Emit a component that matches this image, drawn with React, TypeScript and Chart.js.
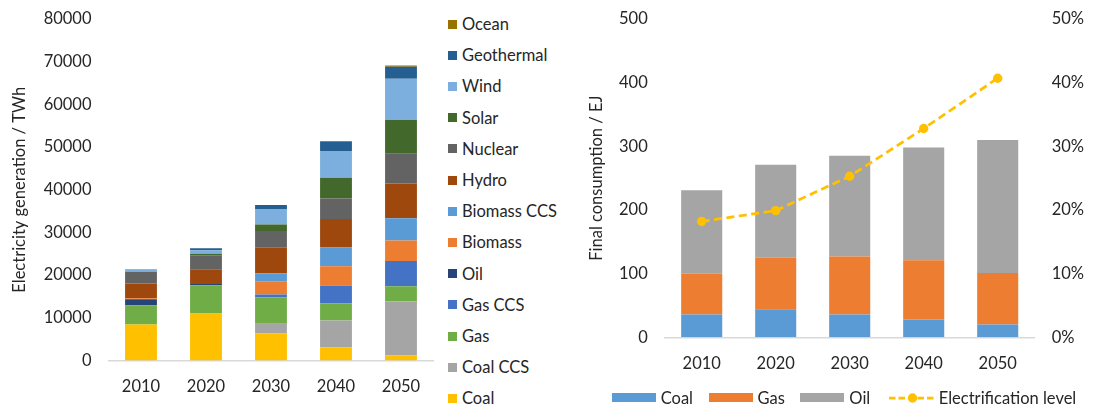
import React, { useEffect, useRef } from "react";
import { Chart, registerables } from "chart.js";

Chart.register(...registerables);

const FONT = "Lato, 'Open Sans', sans-serif";
const FONT_SIZE = 16.5;
const TITLE_SIZE = 16.5;
const TEXT = "#262626";
const AXIS_LINE = "#D9D9D9";

const YEARS = ["2010", "2020", "2030", "2040", "2050"];

// Electricity generation by source, TWh (listed bottom of the stack first)
const GEN_SOURCES = [
  "Coal", "Coal CCS", "Gas", "Gas CCS", "Oil", "Biomass", "Biomass CCS",
  "Hydro", "Nuclear", "Solar", "Wind", "Geothermal", "Ocean",
];
const GEN_COLORS = [
  "#FFC000", "#A5A5A5", "#70AD47", "#4472C4", "#264478", "#ED7D31", "#5B9BD5",
  "#9E480E", "#636363", "#43682B", "#7CAFDD", "#255E91", "#997300",
];
const GEN_COAL = [8450, 11020, 6330, 3120, 1240];
const GEN_COAL_CCS = [0, 0, 2250, 6260, 12590];
const GEN_GAS = [4500, 6630, 6190, 4050, 3590];
const GEN_GAS_CCS = [0, 0, 700, 4060, 5860];
const GEN_OIL = [1400, 300, 0, 0, 0];
const GEN_BIOMASS = [250, 0, 3120, 4610, 4850];
const GEN_BIOMASS_CCS = [0, 0, 1870, 4390, 5220];
const GEN_HYDRO = [3450, 3450, 5930, 6630, 8140];
const GEN_NUCLEAR = [2700, 3280, 3920, 4850, 6930];
const GEN_SOLAR = [50, 300, 1570, 4830, 7900];
const GEN_WIND = [550, 870, 3510, 6260, 9680];
const GEN_GEOTHERMAL = [100, 470, 1010, 2180, 2810];
const GEN_OCEAN = [0, 0, 50, 200, 300];
const GEN_SERIES = [
  GEN_COAL, GEN_COAL_CCS, GEN_GAS, GEN_GAS_CCS, GEN_OIL, GEN_BIOMASS, GEN_BIOMASS_CCS,
  GEN_HYDRO, GEN_NUCLEAR, GEN_SOLAR, GEN_WIND, GEN_GEOTHERMAL, GEN_OCEAN,
];
const GEN_TICKS = [0, 10000, 20000, 30000, 40000, 50000, 60000, 70000, 80000];

// Final energy consumption by fuel, EJ, and electrification share, %
const FINAL_COAL = [36, 44, 36, 28, 20];
const FINAL_GAS = [64, 81, 91, 93, 81];
const FINAL_OIL = [131, 146, 158, 177, 209];
const ELECTRIFICATION = [18.2, 19.9, 25.3, 32.8, 40.7];
const FINAL_LABELS = ["Coal", "Gas", "Oil"];
const FINAL_COLORS = ["#5B9BD5", "#ED7D31", "#A5A5A5"];
const LINE_LABEL = "Electrification level";
const LINE_COLOR = "#FFC000";
const FINAL_TICKS = [0, 100, 200, 300, 400, 500];
const SHARE_TICKS = [0, 10, 20, 30, 40, 50];

const tickFont = { family: FONT, size: FONT_SIZE };
const titleFont = { family: FONT, size: TITLE_SIZE };

// Fix a vertical scale's width and drop the extra room it asks for above/below
// so the plot area is set by the layout padding alone.
const fixVertical = (width: number) => (s: any) => {
  s.width = width;
  s.paddingTop = 0;
  s.paddingBottom = 0;
};

function GenerationChart() {
  const ref = useRef<HTMLCanvasElement>(null);
  useEffect(() => {
    const chart = new Chart(ref.current!, {
      type: "bar",
      data: {
        labels: YEARS,
        datasets: GEN_SOURCES.map((name, i) => ({
          label: name,
          data: GEN_SERIES[i],
          backgroundColor: GEN_COLORS[i],
          borderWidth: 0,
          categoryPercentage: 1,
          barPercentage: 0.49,
        })),
      },
      options: {
        animation: false,
        responsive: false,
        layout: { padding: { top: 19, right: 6.5, bottom: 0, left: 0 } },
        plugins: { legend: { display: false }, tooltip: { enabled: false } },
        scales: {
          x: {
            stacked: true,
            grid: { display: false, drawTicks: false },
            border: { color: AXIS_LINE, width: 1.5 },
            ticks: { padding: 16, color: TEXT, font: tickFont },
            afterFit: (s: any) => { s.height = 43.5; },
          },
          y: {
            stacked: true,
            min: 0,
            max: 80000,
            afterBuildTicks: (s: any) => { s.ticks = GEN_TICKS.map((v) => ({ value: v })); },
            grid: { display: false, drawTicks: false },
            border: { display: false },
            ticks: { padding: 17, color: TEXT, font: tickFont, callback: (v: any) => String(v) },
            title: {
              display: true,
              text: "Electricity generation / TWh",
              color: TEXT,
              font: titleFont,
              padding: { top: 10, bottom: 0 },
            },
            afterFit: fixVertical(108.5),
          },
        },
      },
    });
    return () => chart.destroy();
  }, []);
  return (
    <canvas
      ref={ref}
      width={440}
      height={404}
      style={{ position: "absolute", left: 0, top: 0, width: 440, height: 404 }}
    />
  );
}

function ConsumptionChart() {
  const ref = useRef<HTMLCanvasElement>(null);
  useEffect(() => {
    const bars = [FINAL_COAL, FINAL_GAS, FINAL_OIL].map((data, i) => ({
      type: "bar" as const,
      label: FINAL_LABELS[i],
      data,
      backgroundColor: FINAL_COLORS[i],
      borderWidth: 0,
      categoryPercentage: 1,
      barPercentage: 0.555,
      yAxisID: "y",
      order: 1,
    }));
    const chart = new Chart(ref.current!, {
      type: "bar",
      data: {
        labels: YEARS,
        datasets: [
          {
            type: "line" as const,
            label: LINE_LABEL,
            data: ELECTRIFICATION,
            borderColor: LINE_COLOR,
            backgroundColor: LINE_COLOR,
            borderWidth: 2.75,
            borderDash: [8, 4.5],
            pointRadius: 4.7,
            pointBackgroundColor: LINE_COLOR,
            pointBorderColor: LINE_COLOR,
            pointBorderWidth: 0,
            tension: 0,
            yAxisID: "y1",
            order: 0,
          } as any,
          ...bars,
        ],
      },
      options: {
        animation: false,
        responsive: false,
        layout: { padding: { top: 19, right: 0, bottom: 0, left: 0 } },
        plugins: { legend: { display: false }, tooltip: { enabled: false } },
        scales: {
          x: {
            stacked: true,
            grid: { display: false, drawTicks: false },
            border: { color: AXIS_LINE, width: 1.5 },
            ticks: { padding: 16, color: TEXT, font: tickFont },
            afterFit: (s: any) => { s.height = 66.7; },
          },
          y: {
            stacked: true,
            min: 0,
            max: 500,
            position: "left",
            afterBuildTicks: (s: any) => { s.ticks = FINAL_TICKS.map((v) => ({ value: v })); },
            grid: { display: false, drawTicks: false },
            border: { display: false },
            ticks: { padding: 17, color: TEXT, font: tickFont },
            title: {
              display: true,
              text: "Final consumption / EJ",
              color: TEXT,
              font: titleFont,
              padding: { top: 27, bottom: 0 },
            },
            afterFit: fixVertical(104.7),
          },
          y1: {
            stacked: false,
            min: 0,
            max: 50,
            position: "right",
            afterBuildTicks: (s: any) => { s.ticks = SHARE_TICKS.map((v) => ({ value: v })); },
            grid: { display: false, drawTicks: false },
            border: { display: false },
            ticks: { padding: 17, color: TEXT, font: tickFont, callback: (v: any) => v + "%" },
            afterFit: fixVertical(59.3),
          },
        },
      },
    });
    return () => chart.destroy();
  }, []);
  return (
    <canvas
      ref={ref}
      width={534}
      height={404}
      style={{ position: "absolute", left: 560, top: 0, width: 534, height: 404 }}
    />
  );
}

const legendText: React.CSSProperties = {
  fontFamily: FONT,
  fontSize: FONT_SIZE,
  color: TEXT,
  lineHeight: "20px",
  whiteSpace: "nowrap",
};

function GenerationLegend() {
  const items = GEN_SOURCES.map((name, i) => ({ name, color: GEN_COLORS[i] })).reverse();
  return (
    <>
      {items.map((it, i) => (
        <div
          key={it.name}
          style={{
            position: "absolute",
            left: 448,
            top: 24 + i * 31.2 - 10,
            height: 20,
            display: "flex",
            alignItems: "center",
          }}
        >
          <div style={{ width: 9, height: 9, background: it.color, marginRight: 5 }} />
          <span style={legendText}>{it.name}</span>
        </div>
      ))}
    </>
  );
}

function ConsumptionLegend() {
  return (
    <div
      style={{
        position: "absolute",
        left: 611.7,
        top: 397.7 - 10,
        height: 20,
        display: "flex",
        alignItems: "center",
      }}
    >
      {FINAL_LABELS.map((name, i) => (
        <div key={name} style={{ display: "flex", alignItems: "center", marginRight: 15.5 }}>
          <div style={{ width: 44, height: 9, background: FINAL_COLORS[i], marginRight: 5 }} />
          <span style={legendText}>{name}</span>
        </div>
      ))}
      <div style={{ display: "flex", alignItems: "center", marginLeft: 3 }}>
        <svg width={47} height={12} style={{ marginRight: 3 }}>
          <line x1={0} y1={6} x2={47} y2={6} stroke={LINE_COLOR} strokeWidth={2.75} strokeDasharray="6.5 3" />
          <circle cx={23.5} cy={6} r={4.7} fill={LINE_COLOR} />
        </svg>
        <span style={legendText}>{LINE_LABEL}</span>
      </div>
    </div>
  );
}

export default function App() {
  return (
    <div
      style={{
        position: "absolute",
        left: 0,
        top: 0,
        width: 1094,
        height: 404,
        overflow: "hidden",
        background: "#ffffff",
      }}
    >
      <GenerationChart />
      <GenerationLegend />
      <ConsumptionChart />
      <ConsumptionLegend />
    </div>
  );
}
